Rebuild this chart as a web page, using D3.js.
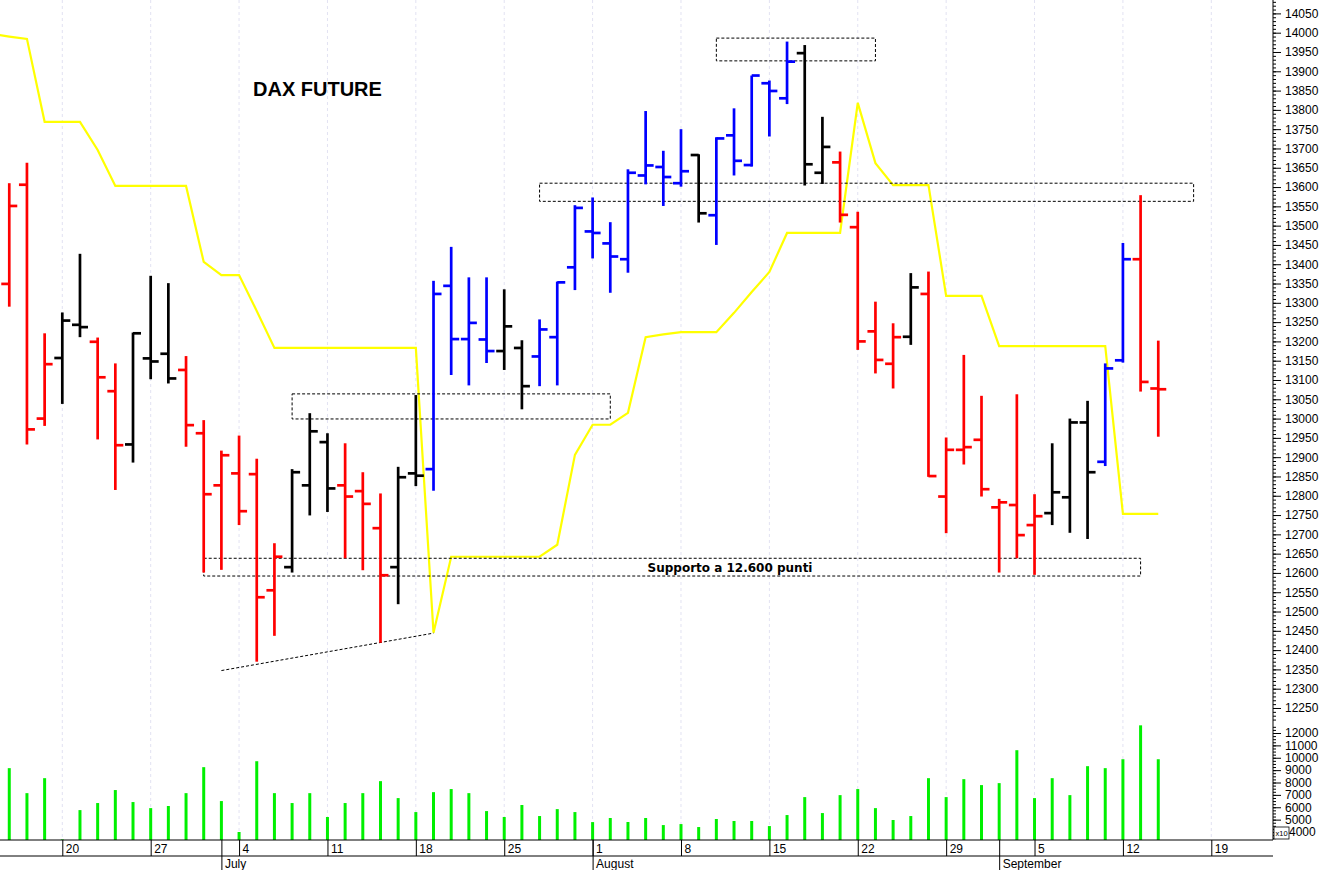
<!DOCTYPE html>
<html><head><meta charset="utf-8">
<script src="https://cdn.jsdelivr.net/npm/d3@7"></script>
<style>body{margin:0;background:#fff}svg{display:block}</style>
</head><body><svg id="c" width="1321" height="870"></svg>
<script>
// ---------------- DATA ----------------
const dates = ["2022-06-15","2022-06-16","2022-06-17","2022-06-20","2022-06-21","2022-06-22","2022-06-23","2022-06-24",
"2022-06-27","2022-06-28","2022-06-29","2022-06-30","2022-07-01","2022-07-04","2022-07-05","2022-07-06","2022-07-07","2022-07-08",
"2022-07-11","2022-07-12","2022-07-13","2022-07-14","2022-07-15","2022-07-18","2022-07-19","2022-07-20","2022-07-21","2022-07-22",
"2022-07-25","2022-07-26","2022-07-27","2022-07-28","2022-07-29","2022-08-01","2022-08-02","2022-08-03","2022-08-04","2022-08-05",
"2022-08-08","2022-08-09","2022-08-10","2022-08-11","2022-08-12","2022-08-15","2022-08-16","2022-08-17","2022-08-18","2022-08-19",
"2022-08-22","2022-08-23","2022-08-24","2022-08-25","2022-08-26","2022-08-29","2022-08-30","2022-08-31","2022-09-01","2022-09-02",
"2022-09-05","2022-09-06","2022-09-07","2022-09-08","2022-09-09","2022-09-12","2022-09-13","2022-09-14"];
const opens  = [13349,13606,13000,13157,13243,13199,13071,12933,13156,13168,13126,12962,12827,12858,12856,12555,12615,12827,
12939,12827,12812,12716,12615,12858,12869,13344,13206,13205,13175,13183,13161,13211,13392,13485,13454,13413,13630,13652,
13610,13683,13527,13734,13657,13869,13830,13947,13637,13664,13496,13226,13142,13212,13323,12798,12919,12945,12770,12776,
12724,12755,12796,12990,12888,13151,13413,13078];
const highs  = [13610,13663,13221,13275,13427,13210,13143,13223,13370,13351,13162,12996,12917,12956,12896,12677,12869,13014,
12962,12936,12861,12806,12875,13061,13357,13445,13366,13366,13335,13203,13257,13355,13553,13573,13509,13646,13797,13694,
13750,13685,13729,13804,13889,13876,13977,13968,13782,13692,13536,13303,13247,13377,13381,12951,13165,13059,12792,13063,
12804,12936,13000,13046,13143,13455,13579,13202];
const lows   = [13290,12933,12981,13038,13211,12946,12815,12886,13102,13091,12927,12601,12608,12724,12370,12437,12601,12749,
12758,12638,12607,12419,12519,12825,12813,13113,13086,13144,13126,13024,13084,13086,13333,13415,13326,13378,13607,13551,
13601,13508,13450,13630,13653,13731,13815,13604,13608,13508,13178,13117,13078,13191,12849,12703,12881,12798,12601,12638,
12595,12724,12704,12688,12877,13145,13070,12953];
const closes = [13551,12972,13141,13254,13237,13107,12931,13221,13148,13104,12983,12804,12905,12760,12537,12642,12861,12967,
12819,12798,12779,12594,12848,12852,13323,13206,13248,13175,13239,13084,13231,13353,13546,13481,13420,13637,13656,13626,
13641,13532,13726,13668,13889,13849,13925,13659,13704,13528,13200,13152,13211,13340,12851,12919,12926,12817,12783,12698,
12747,12809,12990,12861,13130,13413,13095,13076];
// signal state of each bar: d = down (red), n = neutral (black), u = up (blue)
const signals = ["d","d","d","n","n","d","d","n","n","n","d","d","d","d","d","d","n","n","n","d","d","d","n","n",
"u","u","u","u","n","n","u","u","u","u","u","u","u","u","u","n","u","u","u","u","u","n","n","d",
"d","d","d","n","d","d","d","d","d","d","d","n","n","n","u","u","d","d"];
const volumes = [9160,7140,8350,3400,5770,6340,7390,6420,5930,6100,7140,9240,6500,4000,9720,7140,6340,7140,
5210,6340,7140,8110,6740,5610,7220,7470,7140,5690,5210,6180,5290,5850,5610,4800,5130,4810,5130,4560,
4640,4400,5050,4890,4890,4480,5370,6820,5530,6980,7470,5930,4970,5290,8350,6820,8270,7790,7950,10610,
6740,8350,6980,9320,9160,9880,12620,9880];
const stopDates = ["2022-06-14"].concat(dates);
const stopValues = [13997,13990,13984,13769,13769,13769,13696,13603,13603,13603,13603,13603,13406,13372,13372,13279,13183,
13183,13183,13183,13183,13183,13183,13183,13183,12445,12642,12642,12642,12642,12642,12642,12673,12906,12984,12984,13015,
13211,13218,13224,13224,13224,13274,13328,13380,13481,13481,13481,13481,13818,13662,13605,13605,13605,13318,13318,13318,
13188,13188,13188,13188,13188,13188,13188,12753,12753,12753];
const weekTicks = ["2022-06-20","2022-06-27","2022-07-04","2022-07-11","2022-07-18","2022-07-25","2022-08-01","2022-08-08",
"2022-08-15","2022-08-22","2022-08-29","2022-09-05","2022-09-12","2022-09-19"];
const monthStarts = ["2022-07-01","2022-08-01","2022-09-01"];
const monthLabels = ["July","August","September"];
const priceTicks = d3.range(12250, 14051, 50);
const priceMinor = d3.range(12200, 14081, 10);
const volumeTicks = d3.range(4000, 12001, 1000);
const volumeMinor = d3.range(3500, 12501, 250);
// annotation zones: [from date, to date, low price, high price]
const zoneFrom = ["2022-08-10","2022-07-27","2022-07-07","2022-06-30"];
const zoneTo   = ["2022-08-23","2022-09-16","2022-08-02","2022-09-13"];
const zoneLow  = [13927,13563,12999,12592];
const zoneHigh = [13986,13610,13064,12638];
const trendDates = ["2022-07-01","2022-07-19"];
const trendValues = [12347,12444];
const title = "DAX FUTURE";
const supportText = "Supporto a 12.600 punti";

// ---------------- SCALES ----------------
const parse = d3.utcParse("%Y-%m-%d");
const allDays = d3.utcDays(parse("2022-06-13"), parse("2022-10-01")).filter(d => d.getUTCDay() > 0 && d.getUTCDay() < 6);
const dayIndex = new Map(allDays.map((d, i) => [+d, i]));
const idx = s => dayIndex.get(+parse(s));
const x = d3.scaleLinear().domain([idx("2022-06-20"), idx("2022-09-19")]).range([62.3, 1211.3]);
const xd = s => x(idx(s));
const y = d3.scaleLinear().domain([14000, 12300]).range([32.7, 688.7]);
const vy = d3.scaleLinear().domain([4000, 12000]).range([832, 733]);

const AX = 1273, BASE = 840, ROW2 = 856;
const colorOf = {d: "#ff0000", n: "#000000", u: "#0000ff"};
const FONT = "'Liberation Sans', Arial, sans-serif";

const svg = d3.select("#c").style("font-family", FONT);
svg.append("defs").append("clipPath").attr("id", "plot").append("rect")
  .attr("x", 0).attr("y", 0).attr("width", AX).attr("height", BASE);

// gridlines
svg.append("g").selectAll("line").data(weekTicks).join("line")
  .attr("x1", d => xd(d)).attr("x2", d => xd(d)).attr("y1", 0).attr("y2", BASE)
  .attr("stroke", "#e2e2f2").attr("stroke-width", 1).attr("stroke-dasharray", "3,3");

const plot = svg.append("g").attr("clip-path", "url(#plot)");

// stop line
plot.append("path").datum(stopDates.map((d, i) => [d, stopValues[i]]))
  .attr("d", d3.line().x(d => xd(d[0])).y(d => y(d[1])))
  .attr("fill", "none").attr("stroke", "#ffff00").attr("stroke-width", 2.2);

// zones
plot.append("g").selectAll("rect").data(zoneFrom).join("rect")
  .attr("x", (d, i) => xd(d)).attr("width", (d, i) => xd(zoneTo[i]) - xd(d))
  .attr("y", (d, i) => y(zoneHigh[i])).attr("height", (d, i) => y(zoneLow[i]) - y(zoneHigh[i]))
  .attr("fill", "none").attr("stroke", "#000").attr("stroke-width", 1).attr("stroke-dasharray", "3,2");

plot.append("line")
  .attr("x1", xd(trendDates[0])).attr("y1", y(trendValues[0]))
  .attr("x2", xd(trendDates[1])).attr("y2", y(trendValues[1]))
  .attr("stroke", "#000").attr("stroke-width", 1).attr("stroke-dasharray", "3,2");

// OHLC bars
const bars = plot.append("g").selectAll("g").data(dates).join("g")
  .attr("stroke", (d, i) => colorOf[signals[i]]).attr("stroke-width", 2.7);
bars.append("line").attr("x1", d => xd(d)).attr("x2", d => xd(d))
  .attr("y1", (d, i) => y(highs[i])).attr("y2", (d, i) => y(lows[i]));
bars.append("line").attr("x1", d => xd(d) - 8).attr("x2", d => xd(d))
  .attr("y1", (d, i) => y(opens[i])).attr("y2", (d, i) => y(opens[i]));
bars.append("line").attr("x1", d => xd(d)).attr("x2", d => xd(d) + 8)
  .attr("y1", (d, i) => y(closes[i])).attr("y2", (d, i) => y(closes[i]));

// volume
plot.append("g").selectAll("line").data(dates).join("line")
  .attr("x1", d => xd(d)).attr("x2", d => xd(d))
  .attr("y1", BASE).attr("y2", (d, i) => vy(volumes[i]))
  .attr("stroke", "#00f000").attr("stroke-width", 3);

// texts
svg.append("text").attr("x", 253).attr("y", 96).style("font-family", FONT)
  .attr("font-size", 20).attr("font-weight", "bold").text(title);
svg.append("text").attr("x", xd("2022-08-11") - 4).attr("y", y(12615) + 4.5).attr("text-anchor", "middle")
  .style("font-family", "'DejaVu Sans', Verdana, sans-serif")
  .attr("font-size", 12).attr("font-weight", "bold").text(supportText);

// right axis
svg.append("line").attr("x1", AX).attr("x2", AX).attr("y1", 0).attr("y2", BASE).attr("stroke", "#000");
const pa = svg.append("g").attr("transform", `translate(${AX},0)`);
pa.call(d3.axisRight(y).tickValues(priceMinor.filter(v => y(v) < 722)).tickSize(3).tickFormat(""));
pa.select(".domain").remove();
const pa2 = svg.append("g").attr("transform", `translate(${AX},0)`);
pa2.call(d3.axisRight(y).tickValues(priceTicks).tickSize(8).tickPadding(4).tickFormat(d3.format("d")));
pa2.select(".domain").remove();
pa2.selectAll("text").attr("font-size", 12).attr("fill", "#000").style("font-family", FONT);

const va = svg.append("g").attr("transform", `translate(${AX},0)`);
va.call(d3.axisRight(vy).tickValues(volumeMinor).tickSize(3).tickFormat(""));
va.select(".domain").remove();
const va2 = svg.append("g").attr("transform", `translate(${AX},0)`);
va2.call(d3.axisRight(vy).tickValues(volumeTicks).tickSize(8).tickPadding(4).tickFormat(d3.format("d")));
va2.select(".domain").remove();
va2.selectAll("text").attr("font-size", 12).attr("fill", "#000").style("font-family", FONT);
va2.selectAll(".tick").filter(d => d === 4000).select("text").attr("x", 16);
svg.append("rect").attr("x", AX + 1).attr("y", 827).attr("width", 15).attr("height", 12).attr("fill", "#fff").attr("stroke", "#000").attr("stroke-width", 0.8);
svg.append("text").attr("x", AX + 2.5).attr("y", 836).style("font-family", FONT).attr("font-size", 7.5).text("x10");

// bottom axis
svg.append("line").attr("x1", 0).attr("x2", AX).attr("y1", BASE).attr("y2", BASE).attr("stroke", "#000");
svg.append("line").attr("x1", 0).attr("x2", AX).attr("y1", ROW2).attr("y2", ROW2).attr("stroke", "#000");
const xa = svg.append("g").attr("transform", `translate(0,${BASE})`);
xa.call(d3.axisBottom(x).tickValues(weekTicks.map(idx)).tickSize(ROW2 - BASE).tickFormat(i => allDays[i].getUTCDate()));
xa.select(".domain").remove();
xa.selectAll("text").attr("x", 3).attr("y", 4).attr("dy", "0.71em").attr("text-anchor", "start")
  .attr("font-size", 12).attr("fill", "#000").style("font-family", FONT);
const ma = svg.append("g").attr("transform", `translate(0,${BASE})`);
ma.call(d3.axisBottom(x).tickValues(monthStarts.map(idx)).tickSize(30).tickFormat((d, i) => monthLabels[i]));
ma.select(".domain").remove();
ma.selectAll("text").attr("x", 3).attr("y", 19).attr("dy", "0.71em").attr("text-anchor", "start")
  .attr("font-size", 12).attr("fill", "#000").style("font-family", FONT);
</script></body></html>
